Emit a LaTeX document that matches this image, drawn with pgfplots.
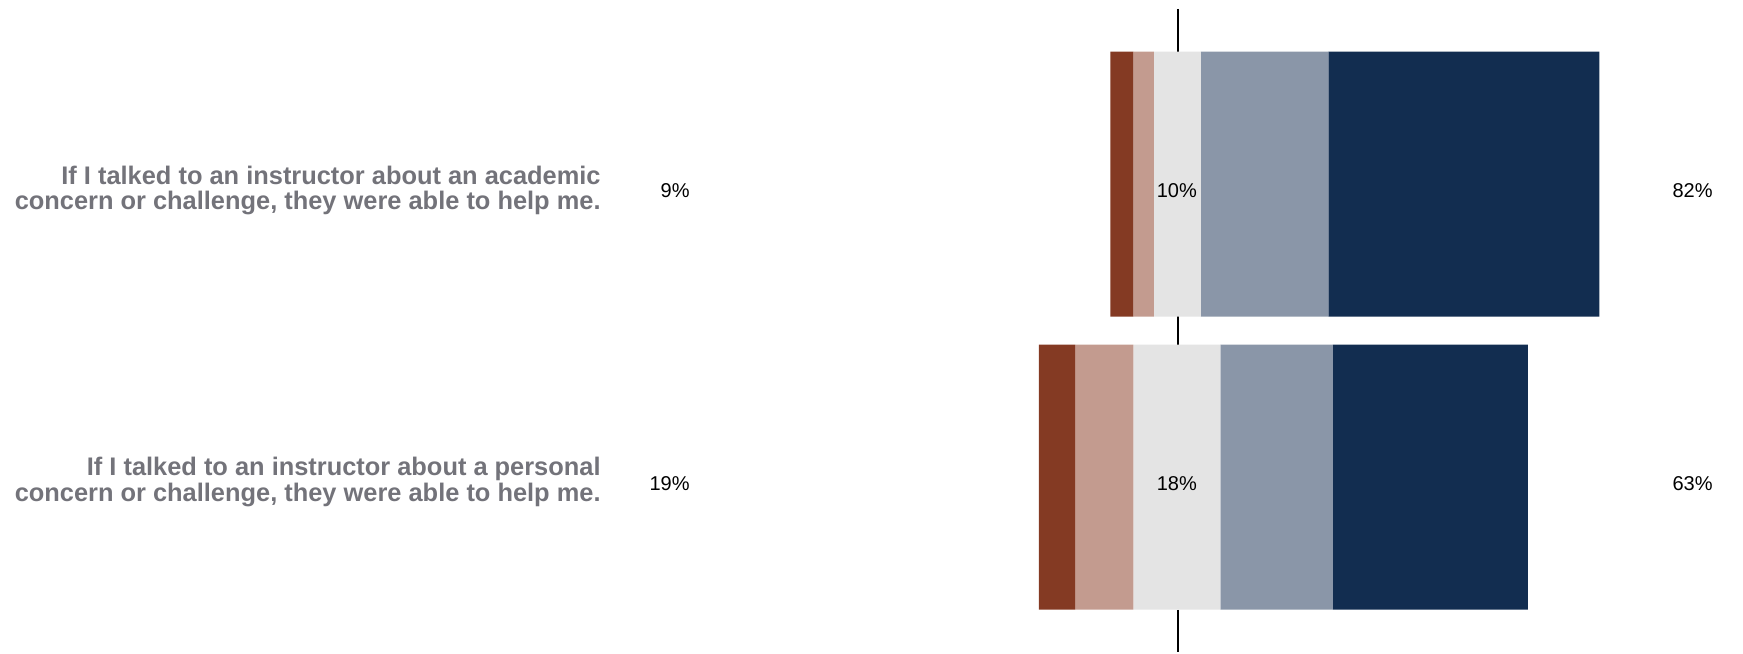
\documentclass[border=0pt]{standalone}
\usepackage{pgfplots}
\pgfplotsset{compat=1.18}
\usepackage{fontspec}
\setmainfont{Liberation Sans}
\definecolor{c1}{RGB}{132,58,35}
\definecolor{c2}{RGB}{195,155,143}
\definecolor{c3}{RGB}{228,228,228}
\definecolor{c4}{RGB}{138,150,168}
\definecolor{c5}{RGB}{18,45,80}
\definecolor{qgray}{RGB}{115,115,122}
\begin{document}
\begin{tikzpicture}
\begin{axis}[
  xbar stacked,
  scale only axis,
  width=871.5pt, height=326pt,
  xmin=-190.96, xmax=165.48,
  ymin=-0.597, ymax=1.628,
  hide axis, clip=false,
  bar width=132.5pt,
]
% invisible offsets: the zero line of the diverging scale sits at x = 50
\addplot[draw=none, fill=none] coordinates {(36.1,1) (21.5,0)};
\addplot[draw=none, fill=c1] coordinates {(4.7,1) (7.4,0)};
\addplot[draw=none, fill=c2] coordinates {(4.2,1) (11.9,0)};
\addplot[draw=none, fill=c3] coordinates {(9.6,1) (17.8,0)};
\addplot[draw=none, fill=c4] coordinates {(26.1,1) (23.0,0)};
\addplot[draw=none, fill=c5] coordinates {(55.4,1) (39.9,0)};

\path (rel axis cs:0,0) rectangle (rel axis cs:1,1);

\draw[black, line width=1pt] (axis cs:50,1.598) -- (axis cs:50,1.452);
\draw[black, line width=1pt] (axis cs:50,0.548) -- (axis cs:50,0.452);
\draw[black, line width=1pt] (axis cs:50,-0.452) -- (axis cs:50,-0.597);

\coordinate (q1) at (axis cs:-68.06,0.978);
\coordinate (q2) at (axis cs:-68.06,-0.016);
\coordinate (l1) at (axis cs:-49.86,0.978);
\coordinate (l2) at (axis cs:-49.86,-0.022);
\coordinate (m1) at (axis cs:49.7,0.978);
\coordinate (m2) at (axis cs:49.7,-0.022);
\coordinate (r1) at (axis cs:159.35,0.978);
\coordinate (r2) at (axis cs:159.35,-0.022);
\end{axis}
\tikzset{qlab/.style={inner sep=0pt, anchor=east, align=right, text=qgray, font=\bfseries\fontsize{12.7pt}{12.9pt}\selectfont},
         plab/.style={inner sep=0pt, font=\fontsize{10pt}{12pt}\selectfont}}
\node[qlab] at (q1) {If I talked to an instructor about an academic\\concern or challenge, they were able to help me.};
\node[qlab] at (q2) {If I talked to an instructor about a personal\\concern or challenge, they were able to help me.};
\node[plab, anchor=east] at (l1) {9\%};
\node[plab, anchor=east] at (l2) {19\%};
\node[plab] at (m1) {10\%};
\node[plab] at (m2) {18\%};
\node[plab, anchor=east] at (r1) {82\%};
\node[plab, anchor=east] at (r2) {63\%};
\end{tikzpicture}
\end{document}
